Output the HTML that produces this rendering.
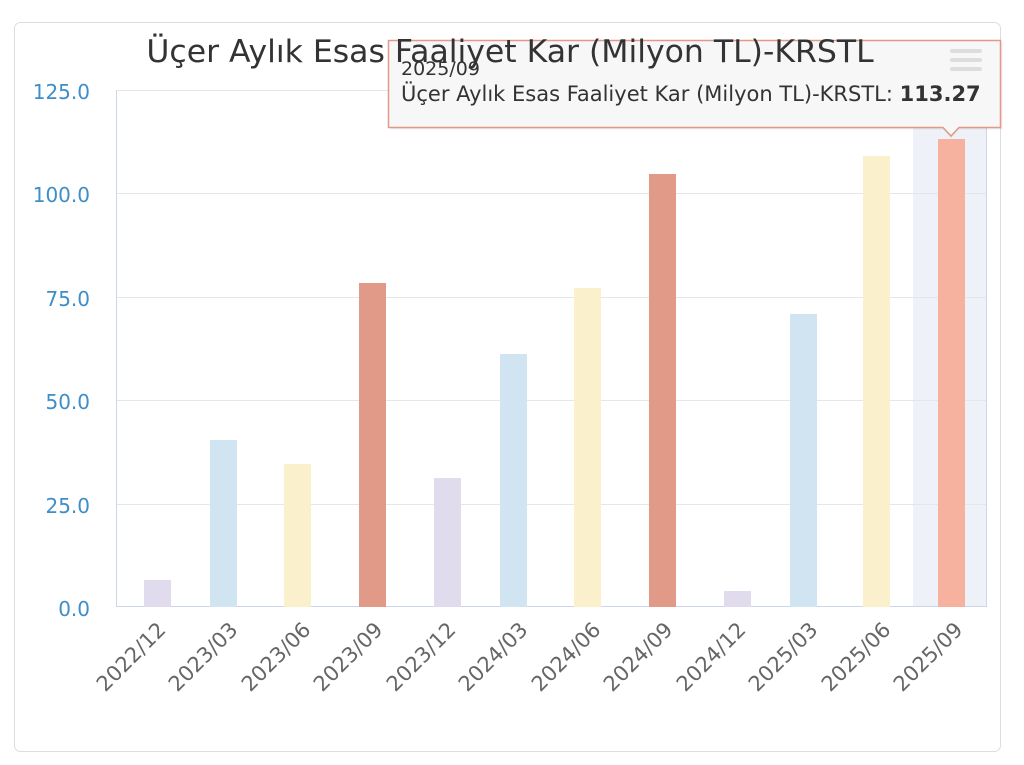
<!DOCTYPE html>
<html><head><meta charset="utf-8"><style>
html,body{margin:0;padding:0;background:#fff;width:1024px;height:765px;overflow:hidden}
svg{display:block}
text{font-family:"DejaVu Sans","Liberation Sans",sans-serif}
</style></head><body>
<svg width="1024" height="765" viewBox="0 0 1024 765">
<rect x="14.5" y="22.5" width="986" height="729" rx="6" fill="#fff" stroke="#ddd"/>
<rect x="913" y="90" width="73" height="517" fill="#eef2f8"/>
<g stroke="#e6e6e6" stroke-width="1">
<line x1="117" y1="90.5" x2="986" y2="90.5"/>
<line x1="117" y1="193.5" x2="986" y2="193.5"/>
<line x1="117" y1="297.5" x2="986" y2="297.5"/>
<line x1="117" y1="400.5" x2="986" y2="400.5"/>
<line x1="117" y1="504.5" x2="986" y2="504.5"/>
</g>
<line x1="116.5" y1="90" x2="116.5" y2="607" stroke="#ccd6eb"/>
<line x1="986.5" y1="90" x2="986.5" y2="607" stroke="#ccd6eb"/>
<line x1="116" y1="606.5" x2="987" y2="606.5" stroke="#ccd6eb"/>
<g font-size="20" fill="#3d8ec9" text-anchor="end">
<text x="90" y="99">125.0</text><text x="90" y="202">100.0</text><text x="90" y="306">75.0</text>
<text x="90" y="409">50.0</text><text x="90" y="513">25.0</text><text x="90" y="616">0.0</text>
</g>
<g>
<rect x="144" y="580" width="27" height="27" fill="#e1dced"/>
<rect x="210" y="440" width="27" height="167" fill="#d0e4f1"/>
<rect x="284" y="464" width="27" height="143" fill="#faf1cc"/>
<rect x="359" y="283" width="27" height="324" fill="#e09a87"/>
<rect x="434" y="478" width="27" height="129" fill="#e1dced"/>
<rect x="500" y="354" width="27" height="253" fill="#d0e4f1"/>
<rect x="574" y="288" width="27" height="319" fill="#faf1cc"/>
<rect x="649" y="174" width="27" height="433" fill="#e09a87"/>
<rect x="724" y="591" width="27" height="16" fill="#e1dced"/>
<rect x="790" y="314" width="27" height="293" fill="#d0e4f1"/>
<rect x="863" y="156" width="27" height="451" fill="#faf1cc"/>
<rect x="938" y="139" width="27" height="468" fill="#f7b29f"/>
</g>
<g font-size="21" fill="#666" text-anchor="end">
<text transform="translate(167,631) rotate(-45)">2022/12</text>
<text transform="translate(239,631) rotate(-45)">2023/03</text>
<text transform="translate(312,631) rotate(-45)">2023/06</text>
<text transform="translate(384,631) rotate(-45)">2023/09</text>
<text transform="translate(457,631) rotate(-45)">2023/12</text>
<text transform="translate(529,631) rotate(-45)">2024/03</text>
<text transform="translate(602,631) rotate(-45)">2024/06</text>
<text transform="translate(674,631) rotate(-45)">2024/09</text>
<text transform="translate(747,631) rotate(-45)">2024/12</text>
<text transform="translate(819,631) rotate(-45)">2025/03</text>
<text transform="translate(892,631) rotate(-45)">2025/06</text>
<text transform="translate(964,631) rotate(-45)">2025/09</text>
</g>
<g>
<path d="M390.5 42.5 H1002.5 V129.5 H959 L951 138 L943 129.5 H390.5 Z" fill="#000" fill-opacity="0.06"/>
<path d="M388.5 40.5 H1000.5 V127.5 H959 L951 136 L943 127.5 H388.5 Z" fill="#f7f7f7" stroke="#e09a87" stroke-width="1.5"/>
<text x="401" y="75" font-size="19" fill="#333">2025/09</text>
<text x="401" y="101" font-size="21" fill="#333">Üçer Aylık Esas Faaliyet Kar (Milyon TL)-KRSTL: <tspan font-weight="bold">113.27</tspan></text>
</g>
<text x="510" y="62" font-size="31.5" fill="#333" text-anchor="middle">Üçer Aylık Esas Faaliyet Kar (Milyon TL)-KRSTL</text>
<g fill="#ddd"><rect x="950" y="49" width="32" height="4" rx="2"/><rect x="950" y="58" width="32" height="4" rx="2"/><rect x="950" y="67" width="32" height="4" rx="2"/></g>
</svg>
</body></html>
